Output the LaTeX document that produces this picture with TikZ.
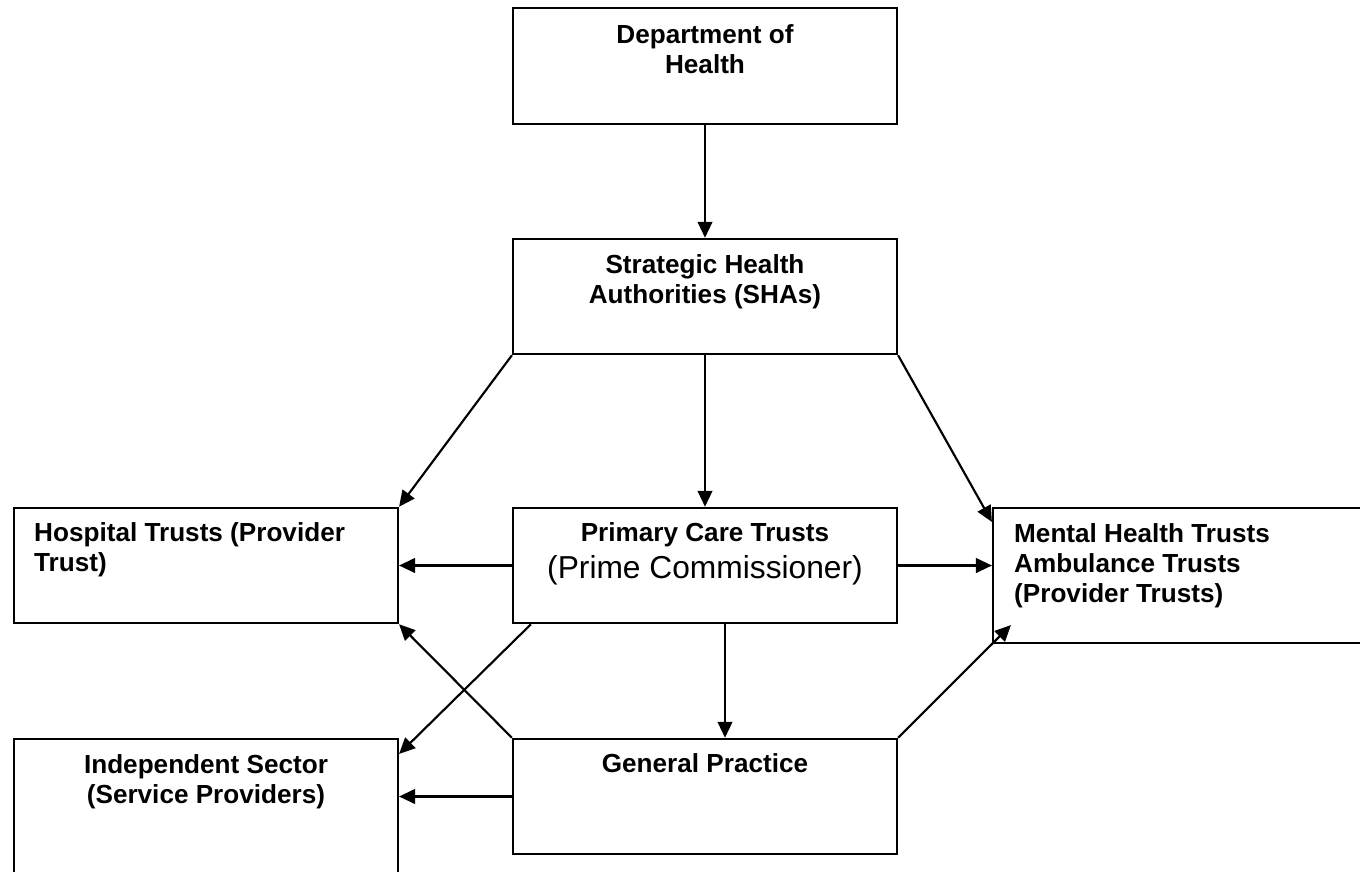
\documentclass[tikz,border=0pt]{standalone}
\usepackage{fontspec}
\setmainfont{Liberation Sans}
\usetikzlibrary{positioning,arrows.meta}

\tikzset{
  orgbox/.style={rectangle, draw, line width=1.6pt, minimum width=288pt, minimum height=86.5pt, inner sep=0pt},
  orgtext/.style={inner sep=0pt, align=center, font=\fontsize{19.6}{22.5}\selectfont\bfseries},
  link/.style={line width=1.6pt, -{Triangle[length=12pt,width=11pt]}},
}

\begin{document}
\begin{tikzpicture}[x=0.75pt, y=-0.75pt]
  \useasboundingbox (0,0) rectangle (1360,871);

  % Boxes
  \node[orgbox] (doh) at (705,66) {};
  \node[orgbox] (sha) at (705,296.5) {};
  \node[orgbox] (pct) at (705,565.5) {};
  \node[orgbox] (hosp) at (206,565.5) {};
  \node[orgbox, minimum height=101.25pt] (mh) at (1185,575.5) {};
  \node[orgbox] (gp) at (705,796.5) {};
  \node[orgbox, minimum height=101.25pt] (ind) at (206,806.5) {};

  % Box texts, sitting near the top edge
  \node[orgtext, below=13pt of doh.north] (dohtext) {Department of\\Health};
  \node[orgtext, below=12.5pt of sha.north] (shatext) {Strategic Health\\Authorities (SHAs)};
  \node[orgtext, below=12pt of pct.north] (pcttext)
    {Primary Care Trusts\\[5pt]{\fontsize{23.8}{28}\selectfont\mdseries (Prime Commissioner)}};
  \node[orgtext, align=left, below right=12pt and 15.75pt of hosp.north west] (hosptext)
    {Hospital Trusts (Provider\\Trust)};
  \node[orgtext, align=left, below right=12pt and 16.5pt of mh.north west] (mhtext)
    {Mental Health Trusts\\Ambulance Trusts\\(Provider Trusts)};
  \node[orgtext, below=12pt of gp.north] (gptext) {General Practice};
  \node[orgtext, below=12.5pt of ind.north] (indtext) {Independent Sector\\(Service Providers)};

  % Arrows
  \draw[link] (doh.south) -- (sha.north);
  \draw[link] (sha.south) -- (pct.north);
  \draw[link] (sha.south west) -- (hosp.north east);
  \draw[link] (sha.south east) -- ([yshift=-11.25pt]mh.north west);
  \draw[link] (pct.west) -- (hosp.east);
  \draw[link] (pct.east) -- (pct.east -| mh.west);
  \draw[link] ([xshift=15pt]pct.south) -- ([xshift=15pt]gp.north);
  \draw[link] ([xshift=14.25pt]pct.south west) -- ([yshift=-12pt]ind.north east);
  \draw[link] (gp.north west) -- (hosp.south east);
  \draw[link] (gp.west) -- (gp.west -| ind.east);
  \draw[link] (gp.north east) -- ([xshift=14.25pt,yshift=14.25pt]mh.south west);
\end{tikzpicture}
\end{document}
